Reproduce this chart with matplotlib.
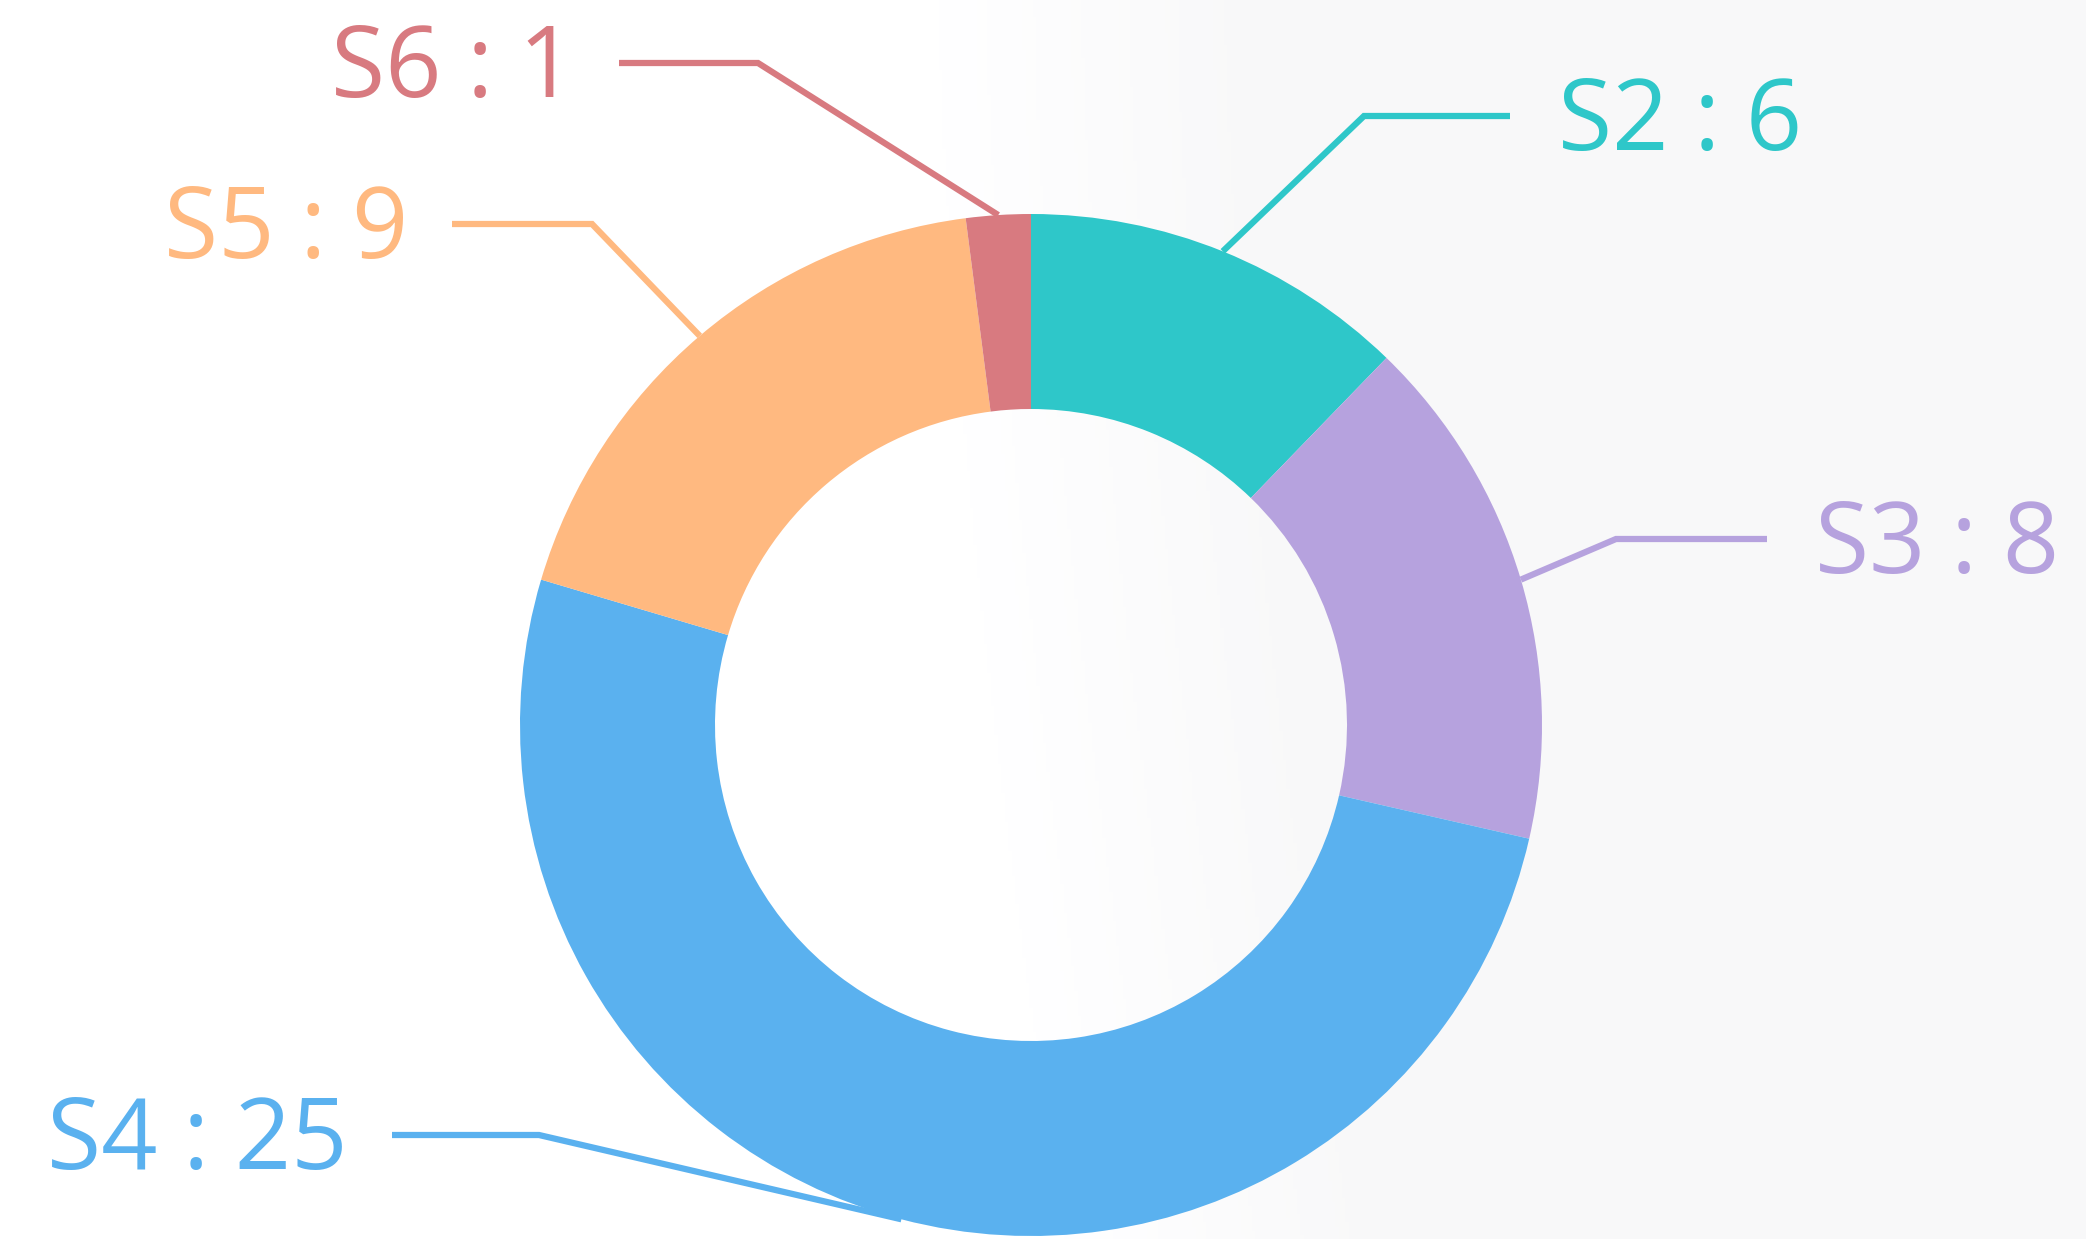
import numpy as np
import matplotlib
matplotlib.use('Agg')
import matplotlib.pyplot as plt

# series (clockwise from 12 o'clock)
names = ['S2', 'S3', 'S4', 'S5', 'S6']
values = [6, 8, 25, 9, 1]
colors = ['#2ec7c9', '#b6a2de', '#5ab1ef', '#ffb980', '#d87a80']

W, H = 2086, 1239
cx, cy = 1031, H - 725
r_out, r_in = 511, 316

# label layout: elbow point, end of leader
elbows = {'S2': (1364, 116), 'S3': (1616, 539), 'S4': (539, 1135),
          'S5': (592, 224), 'S6': (758, 63)}
ends = {'S2': (1510, 116), 'S3': (1767, 539), 'S4': (392, 1135),
        'S5': (452, 224), 'S6': (619, 63)}

fig = plt.figure(figsize=(W / 100, H / 100), dpi=100)

# faint grey backdrop on the right, with a soft curved edge
bg = fig.add_axes([0, 0, 1, 1])
gx, gy = np.meshgrid(np.linspace(0, 1, 600), np.linspace(0, 1, 300))
edge = 0.45 + 0.06 * gy ** 1.5
t = np.clip((gx - edge) / 0.14, 0, 1)
shade = 1.0 - 0.024 * t
rgb = np.dstack([shade, shade, np.clip(shade + 0.003, 0, 1)])
bg.imshow(rgb, aspect='auto', extent=[0, 1, 0, 1], origin='upper')
bg.set_axis_off()

ax = fig.add_axes([0, 0, 1, 1])
ax.patch.set_alpha(0)
ax.pie(values, colors=colors, startangle=90, counterclock=False,
       radius=r_out, center=(cx, cy),
       wedgeprops=dict(width=r_out - r_in, linewidth=0))
ax.set_xlim(0, W)
ax.set_ylim(0, H)
ax.set_aspect('auto')
ax.set_axis_off()

total = sum(values)
cum = 0
for name, v, c in zip(names, values, colors):
    mid = np.deg2rad((cum + v / 2) / total * 360)
    cum += v
    x0 = cx + r_out * np.sin(mid)
    y0 = cy + r_out * np.cos(mid)
    ex, ey = elbows[name]
    lx, ly = ends[name]
    ax.plot([x0, ex, lx], [y0, H - ey, H - ly], color=c, lw=4.5,
            solid_capstyle='butt', solid_joinstyle='miter')
    right = lx > ex
    ax.text(lx + (48 if right else -44), H - ly - 8, f'{name} : {v}',
            color=c, fontsize=71, va='center',
            ha='left' if right else 'right',
            family=['Open Sans', 'DejaVu Sans'])

fig.savefig('out.png', dpi=100)
